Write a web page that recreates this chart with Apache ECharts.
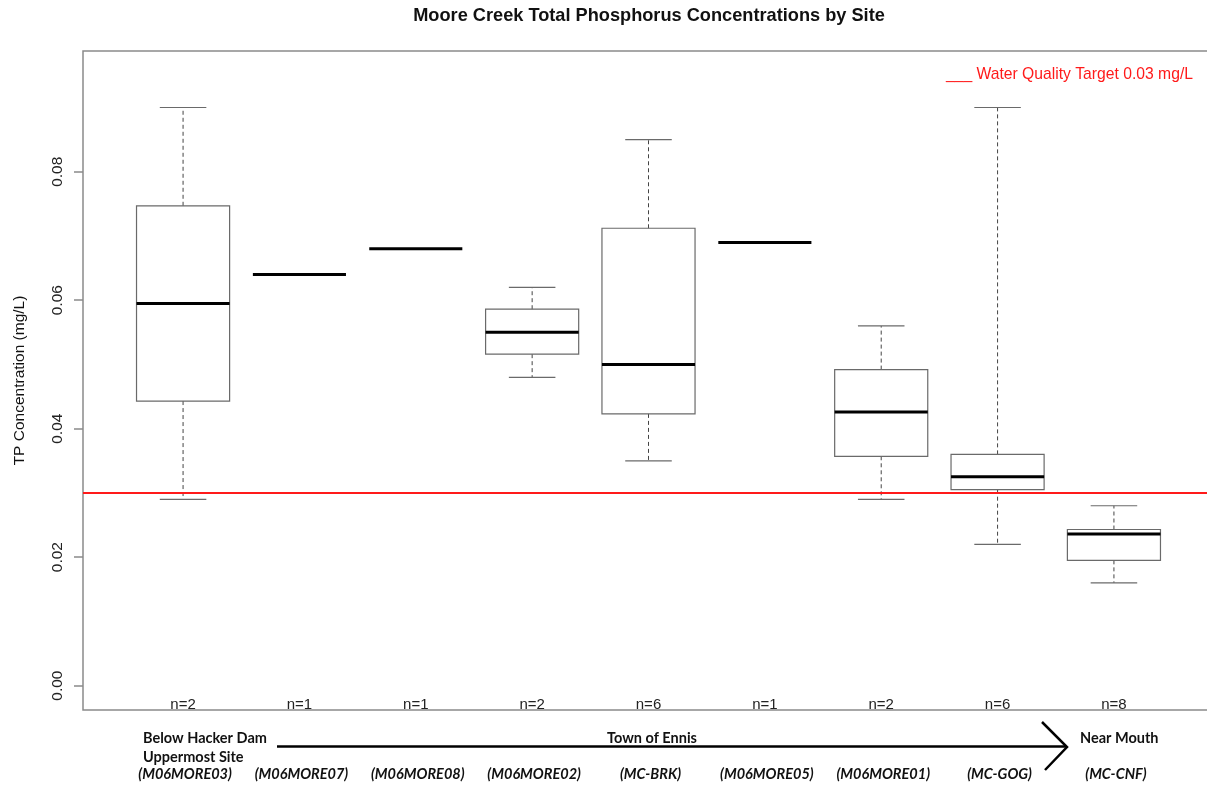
<!DOCTYPE html>
<html>
<head>
<meta charset="utf-8">
<script src="https://cdn.jsdelivr.net/npm/echarts@6/dist/echarts.min.js"></script>
<style>
html,body{margin:0;padding:0;background:#fff;}
#chart{width:1207px;height:786px;}
</style>
</head>
<body>
<div id="chart"></div>
<script>
// ---- data ----
const sites = ['(M06MORE03)', '(M06MORE07)', '(M06MORE08)', '(M06MORE02)', '(MC-BRK)', '(M06MORE05)', '(M06MORE01)', '(MC-GOG)', '(MC-CNF)'];
const nCounts = [2, 1, 1, 2, 6, 1, 2, 6, 8];
const whiskerLow  = [0.029, null, null, 0.048, 0.035, null, 0.029, 0.022, 0.016];
const q1          = [0.0443, null, null, 0.0516, 0.0423, null, 0.0357, 0.0305, 0.0195];
const median      = [0.0595, 0.064, 0.068, 0.055, 0.050, 0.069, 0.0426, 0.0325, 0.0236];
const q3          = [0.0747, null, null, 0.0586, 0.0712, null, 0.0492, 0.036, 0.0243];
const whiskerHigh = [0.090, null, null, 0.062, 0.085, null, 0.056, 0.090, 0.028];
const yTicks = [0, 0.02, 0.04, 0.06, 0.08];
const targetValue = 0.03;

const boxData = sites.map((s, i) => [i + 1, whiskerLow[i], q1[i], median[i], q3[i], whiskerHigh[i], nCounts[i], s]);

const chart = echarts.init(document.getElementById('chart'));

const frameColor = '#8a8a8a';
const boxColor = '#6a6a6a';

function renderBox(params, api) {
  const x = api.value(0);
  const wlo = api.value(1), lo = api.value(2), med = api.value(3), hi = api.value(4), whi = api.value(5);
  const n = api.value(6);
  const label = boxData[params.dataIndex][7];
  const boxW = api.size([0.8, 0])[0];
  const cx = api.coord([x, med])[0];
  const yMed = api.coord([x, med])[1];
  const yBottom = api.coord([x, -0.0038])[1];
  const children = [];
  const hasBox = !(lo == null || isNaN(lo));
  if (hasBox) {
    const yLo = api.coord([x, lo])[1], yHi = api.coord([x, hi])[1];
    const yWlo = api.coord([x, wlo])[1], yWhi = api.coord([x, whi])[1];
    children.push({type: 'line', shape: {x1: cx, y1: yHi, x2: cx, y2: yWhi}, style: {stroke: '#444', lineWidth: 1, lineDash: [4, 3]}});
    children.push({type: 'line', shape: {x1: cx, y1: yLo, x2: cx, y2: yWlo}, style: {stroke: '#444', lineWidth: 1, lineDash: [4, 3]}});
    children.push({type: 'line', shape: {x1: cx - boxW / 4, y1: yWhi, x2: cx + boxW / 4, y2: yWhi}, style: {stroke: boxColor, lineWidth: 1.2}});
    children.push({type: 'line', shape: {x1: cx - boxW / 4, y1: yWlo, x2: cx + boxW / 4, y2: yWlo}, style: {stroke: boxColor, lineWidth: 1.2}});
    children.push({type: 'rect', shape: {x: cx - boxW / 2, y: yHi, width: boxW, height: yLo - yHi}, style: {fill: 'none', stroke: boxColor, lineWidth: 1.2}});
  }
  children.push({type: 'line', shape: {x1: cx - boxW / 2, y1: yMed, x2: cx + boxW / 2, y2: yMed}, style: {stroke: '#000', lineWidth: 3}});
  children.push({type: 'text', style: {text: 'n=' + n, x: cx, y: yBottom - 5.5, textAlign: 'center', textVerticalAlign: 'middle', fontFamily: 'Liberation Sans, Arial', fontSize: 15, fill: '#222'}});
  children.push({type: 'text', style: {text: label, x: cx + 2, y: yBottom + 64, textAlign: 'center', textVerticalAlign: 'middle', fontFamily: 'Lato', fontStyle: 'italic', fontWeight: 'bold', fontSize: 14.5, fill: '#111'}});
  return {type: 'group', children: children};
}

const option = {
  animation: false,
  backgroundColor: '#fff',
  title: [{
    text: 'Moore Creek Total Phosphorus Concentrations by Site',
    left: 644, top: 2, textAlign: 'center',
    textStyle: {fontFamily: 'Liberation Sans, Arial', fontWeight: 'bold', fontSize: 18.2, color: '#111'}
  }, {
    text: '___ Water Quality Target 0.03 mg/L',
    right: 9, top: 62,
    textStyle: {fontFamily: 'Liberation Sans, Arial', fontWeight: 'normal', fontSize: 15.7, color: '#ff1a1a'}
  }],
  grid: {left: 83, right: -7, top: 51, bottom: 76, show: true, outerBoundsMode: 'none', containLabel: false, borderColor: frameColor, borderWidth: 1.5, backgroundColor: 'transparent'},
  xAxis: {type: 'value', min: 0.14, max: 9.86, show: false, splitLine: {show: false}},
  yAxis: {
    type: 'value', min: -0.0038, max: 0.0988,
    name: 'TP Concentration (mg/L)', nameLocation: 'middle', nameGap: 55, nameRotate: 90,
    nameTextStyle: {fontFamily: 'Liberation Sans, Arial', fontSize: 15.5, color: '#111'},
    axisLine: {show: false},
    axisTick: {show: true, length: 9, customValues: yTicks, lineStyle: {color: frameColor, width: 1.5}},
    axisLabel: {rotate: 90, margin: 17, customValues: yTicks, formatter: v => v.toFixed(2), fontFamily: 'Liberation Sans, Arial', fontSize: 15.5, color: '#222'},
    splitLine: {show: false}
  },
  series: [{
    type: 'custom',
    name: 'TP',
    renderItem: renderBox,
    clip: false,
    encode: {x: 0, y: [1, 2, 3, 4, 5]},
    data: boxData,
    z: 3
  }, {
    type: 'line',
    name: 'Water Quality Target 0.03 mg/L',
    data: [],
    markLine: {
      silent: true, symbol: 'none', animation: false,
      label: {show: false},
      lineStyle: {color: '#ff1a1a', width: 2, type: 'solid'},
      data: [{yAxis: targetValue}]
    },
    z: 2
  }],
  graphic: [
    {type: 'text', left: 143, top: 731, style: {text: 'Below Hacker Dam', fontFamily: 'Lato', fontWeight: 'bold', fontSize: 14.5, fill: '#111'}},
    {type: 'text', left: 143, top: 750, style: {text: 'Uppermost Site', fontFamily: 'Lato', fontWeight: 'bold', fontSize: 14.5, fill: '#111'}},
    {type: 'text', left: 607, top: 731, style: {text: 'Town of Ennis', fontFamily: 'Lato', fontWeight: 'bold', fontSize: 14.5, fill: '#111'}},
    {type: 'text', left: 1080, top: 731, style: {text: 'Near Mouth', fontFamily: 'Lato', fontWeight: 'bold', fontSize: 14.5, fill: '#111'}},
    {type: 'polyline', shape: {points: [[277, 746.5], [1066, 746.5]]}, style: {stroke: '#000', lineWidth: 2.5, fill: 'none'}},
    {type: 'polyline', shape: {points: [[1042, 722], [1067, 747], [1045, 770]]}, style: {stroke: '#000', lineWidth: 2.5, fill: 'none'}}
  ]
};
chart.setOption(option);
</script>
</body>
</html>
